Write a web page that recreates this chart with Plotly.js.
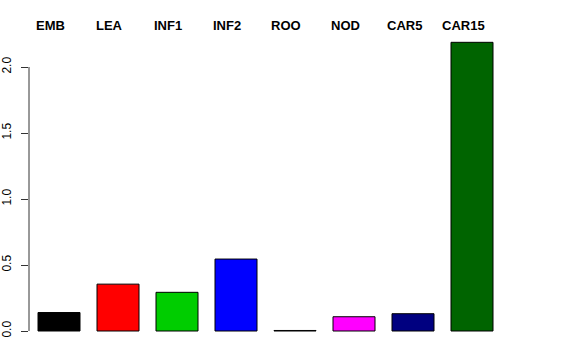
<!DOCTYPE html>
<html>
<head>
<meta charset="utf-8">
<script src="https://cdn.plot.ly/plotly-3.0.1.min.js"></script>
<style>html,body{margin:0;padding:0;background:#fff;}#chart{width:576px;height:360px;}</style>
</head>
<body>
<div id="chart"></div>
<script>
var categories = ["EMB", "LEA", "INF1", "INF2", "ROO", "NOD", "CAR5", "CAR15"];
var values = [0.14, 0.355, 0.293, 0.545, 0.004, 0.108, 0.131, 2.187];
var barColors = ["#000000", "#FF0000", "#00CD00", "#0000FF", "#FFFFFF", "#FF00FF", "#000080", "#006400"];
var yTickVals = [0, 0.5, 1.0, 1.5, 2.0];
var yTickText = ["0.0", "0.5", "1.0", "1.5", "2.0"];

var xs = categories.map(function (c, i) { return i; });

var trace = {
  type: "bar",
  x: xs,
  y: values,
  marker: { color: barColors, line: { color: "#000000", width: 1 } },
  hoverinfo: "skip"
};

var annotations = categories.map(function (c, i) {
  return {
    x: i - 0.15, xref: "x", y: 1, yref: "paper",
    text: "<b>" + c + "</b>", showarrow: false,
    xanchor: "center", yanchor: "middle", yshift: 5.5,
    font: { family: "Liberation Sans, Arial, sans-serif", size: 13, color: "#000000" }
  };
});

var layout = {
  width: 576, height: 360,
  margin: { l: 29, r: 71, t: 31, b: 17, pad: 0 },
  paper_bgcolor: "#ffffff", plot_bgcolor: "#ffffff",
  showlegend: false,
  bargap: 0.288,
  font: { family: "Liberation Sans, Arial, sans-serif", size: 12, color: "#000000" },
  xaxis: {
    range: [-30 / 59, 446 / 59],
    showticklabels: false, showgrid: false, zeroline: false, showline: false, ticks: ""
  },
  yaxis: {
    range: [-12 / 132, 300 / 132],
    tickvals: yTickVals, ticktext: yTickText,
    ticks: "outside", ticklen: 7, tickcolor: "#333333", tickwidth: 1,
    tickangle: -90, ticklabelstandoff: 5,
    showgrid: false, zeroline: false, showline: false,
    tickfont: { family: "Liberation Sans, Arial, sans-serif", size: 12, color: "#000000" }
  },
  shapes: [{
    type: "line", xref: "paper", yref: "y", x0: 0, x1: 0, y0: 0, y1: 2,
    line: { color: "#333333", width: 1 }
  }],
  annotations: annotations
};

Plotly.newPlot("chart", [trace], layout, { displayModeBar: false, staticPlot: true });
</script>
</body>
</html>
